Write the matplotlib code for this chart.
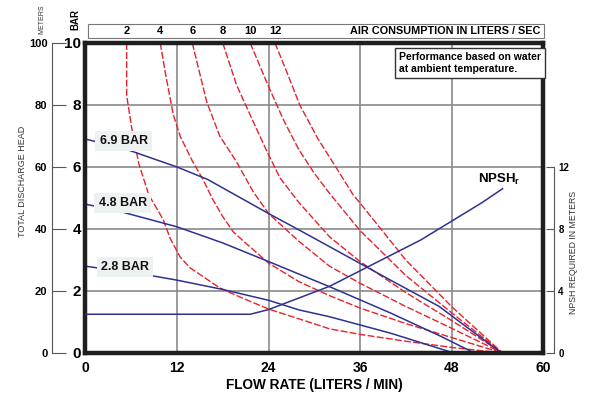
import matplotlib
matplotlib.use("Agg")
import matplotlib.pyplot as plt
from matplotlib.patches import Rectangle

plt.rcParams['font.family'] = ['Liberation Sans', 'DejaVu Sans']

# air consumption curves (liters/sec), flow (l/min) vs head (bar)
air_labels = [2, 4, 6, 8, 10, 12]
air2_x = [5.4, 5.4, 6.1, 7.0, 8.3, 10.2, 11.1, 12.4, 13.7, 17.6, 20.3, 24, 28, 32, 36, 42, 48, 54.7]
air2_y = [10, 8.3, 7.2, 6.1, 5.1, 4.3, 3.7, 3.1, 2.75, 2.1, 1.8, 1.42, 1.1, 0.78, 0.6, 0.38, 0.18, 0]
air4_x = [9.8, 10.5, 11.5, 12.4, 14.0, 15.4, 16.7, 18.0, 19.4, 20.3, 24, 28, 32, 36, 42, 48, 54.7]
air4_y = [10, 9.0, 7.7, 7.0, 6.2, 5.6, 4.95, 4.4, 3.9, 3.7, 2.9, 2.3, 1.85, 1.45, 0.95, 0.5, 0]
air6_x = [14.0, 15.0, 15.9, 17.6, 19.8, 22.0, 24, 28, 32, 36, 42, 48, 54.7]
air6_y = [10, 9.0, 8.1, 7.0, 6.17, 5.2, 4.5, 3.6, 2.8, 2.25, 1.5, 0.8, 0]
air8_x = [18.0, 19.8, 22.0, 23.8, 25.5, 28, 32, 36, 42, 48, 54.7]
air8_y = [10, 8.65, 7.46, 6.5, 5.65, 4.85, 3.75, 2.95, 1.95, 1.05, 0]
air10_x = [21.6, 24, 26, 28, 30, 32, 36, 42, 48, 54.7]
air10_y = [10, 8.6, 7.5, 6.55, 5.8, 5.15, 3.95, 2.5, 1.3, 0]
air12_x = [24.85, 26.5, 28.1, 30.5, 32.9, 35.1, 36, 42, 48, 54.7]
air12_y = [10, 9.0, 8.0, 6.9, 5.97, 5.1, 4.84, 3.0, 1.5, 0]

# air inlet pressure curves
bar69_x = [0, 5, 12, 16, 20, 24, 28, 32, 40, 46.4, 50.4, 54.3]
bar69_y = [6.9, 6.6, 6.0, 5.6, 5.05, 4.5, 3.97, 3.43, 2.35, 1.5, 0.76, 0.05]
bar48_x = [0, 4, 12, 18, 24, 32, 40, 46.5, 51]
bar48_y = [4.8, 4.6, 4.07, 3.55, 2.95, 2.14, 1.29, 0.55, 0]
bar28_x = [0, 9, 12, 18, 24, 28, 32, 40, 48.3]
bar28_y = [2.8, 2.48, 2.35, 2.05, 1.7, 1.39, 1.17, 0.64, 0]
bar_labels = ['6.9 BAR', '4.8 BAR', '2.8 BAR']
bar_label_x = [5.0, 4.9, 5.2]
bar_label_y = [6.84, 4.84, 2.77]

# NPSH required (meters)
npsh_x = [0, 21.6, 24, 28, 32, 40, 44, 52, 54.7]
npsh_y = [2.5, 2.5, 2.8, 3.55, 4.3, 6.3, 7.3, 9.7, 10.6]

RED = '#e8212b'
BLUE = '#2e3192'

fig = plt.figure(figsize=(6, 3.99), dpi=100)
ax = fig.add_axes([0.1425, 0.1153, 0.7625, 0.777])
ax.set_xlim(0, 60)
ax.set_ylim(0, 10)

for v in [12, 24, 36, 48]:
    ax.axvline(v, color='#8a8a8a', lw=1.2, zorder=1)
for v in [2, 4, 6, 8]:
    ax.axhline(v, color='#8a8a8a', lw=1.2, zorder=1)

air_x = [air2_x, air4_x, air6_x, air8_x, air10_x, air12_x]
air_y = [air2_y, air4_y, air6_y, air8_y, air10_y, air12_y]
for xs, ys in zip(air_x, air_y):
    ax.plot(xs, ys, color=RED, lw=1.0, dashes=(5, 1.6), zorder=2)

for xs, ys in zip([bar69_x, bar48_x, bar28_x], [bar69_y, bar48_y, bar28_y]):
    ax.plot(xs, ys, color=BLUE, lw=1.1, zorder=3)

for lab, lx, ly in zip(bar_labels, bar_label_x, bar_label_y):
    ax.text(lx, ly, lab, ha='center', va='center', fontsize=9, fontweight='bold',
            color='#111111', zorder=5,
            bbox=dict(boxstyle='square,pad=0.35', fc='#eef1f1', ec='none'))

# NPSH on its own scale (0-12 m on the right)
axn = ax.twinx()
axn.set_ylim(0, 20)
axn.plot(npsh_x, npsh_y, color=BLUE, lw=1.1)
axn.text(54.2, 10.7, 'NPSH$_\\mathregular{r}$', ha='center', va='bottom', fontsize=9.5,
         fontweight='bold')
for s in ['top', 'left', 'bottom']:
    axn.spines[s].set_visible(False)
axn.spines['right'].set_position(('outward', 8))
axn.spines['right'].set_bounds(0, 12)
axn.spines['right'].set_color('#555555')
axn.spines['right'].set_linewidth(0.8)
axn.set_yticks([0, 4, 8, 12])
axn.tick_params(axis='y', direction='in', length=6, width=0.8, color='#555555', pad=3,
                labelsize=7)
for t in axn.get_yticklabels():
    t.set_fontweight('bold')
fig.text(0.955, 0.368, 'NPSH REQUIRED IN METERS', rotation=90, ha='center', va='center',
         fontsize=6.3, color='#333333')

# main border
for s in ax.spines.values():
    s.set_linewidth(3.2)
    s.set_color('#1e1e1e')
    s.set_zorder(6)

ax.set_xticks([0, 12, 24, 36, 48, 60])
ax.set_yticks([0, 2, 4, 6, 8, 10])
ax.tick_params(axis='both', length=0)
ax.tick_params(axis='x', pad=6, labelsize=10)
ax.tick_params(axis='y', pad=3, labelsize=11)
for t in ax.get_xticklabels() + ax.get_yticklabels():
    t.set_fontweight('bold')
ax.set_xlabel('FLOW RATE (LITERS / MIN)', fontsize=9.8, fontweight='bold', labelpad=2)

# meters scale on the far left
axm = ax.secondary_yaxis(-0.074, functions=(lambda b: b * 10, lambda m: m / 10))
axm.set_yticks([0, 20, 40, 60, 80, 100])
axm.spines['left'].set_color('#555555')
axm.spines['left'].set_linewidth(0.8)
axm.tick_params(axis='y', direction='in', length=10, width=0.8, color='#555555',
                labelsize=8, pad=3)
for t in axm.get_yticklabels():
    t.set_fontweight('bold')

fig.text(0.037, 0.546, 'TOTAL DISCHARGE HEAD', rotation=90, ha='center', va='center',
         fontsize=6.5, color='#333333')
fig.text(0.07, 0.952, 'METERS', rotation=90, ha='center', va='center', fontsize=5,
         color='#333333')
fig.text(0.125, 0.95, 'BAR', rotation=90, ha='center', va='center', fontsize=7,
         fontweight='bold')

# air consumption header strip
ax.add_patch(Rectangle((0.005, 1.016), 0.997, 0.046, transform=ax.transAxes,
                       fc='white', ec='#777777', lw=0.8, clip_on=False))
tr = ax.get_xaxis_transform()
for lab, xs in zip(air_labels, air_x):
    ax.text(xs[0], 1.038, str(lab), transform=tr, ha='center', va='center',
            fontsize=8, fontweight='bold')
ax.text(0.995, 1.038, 'AIR CONSUMPTION IN LITERS / SEC', transform=ax.transAxes,
        ha='right', va='center', fontsize=7.8, fontweight='bold')

ax.text(0.685, 0.97, 'Performance based on water\nat ambient temperature.',
        transform=ax.transAxes, ha='left', va='top', fontsize=7.5, fontweight='bold',
        linespacing=1.2, zorder=7,
        bbox=dict(boxstyle='square,pad=0.4', fc='white', ec='#333333', lw=1.0))

fig.savefig('out.png', dpi=100)
